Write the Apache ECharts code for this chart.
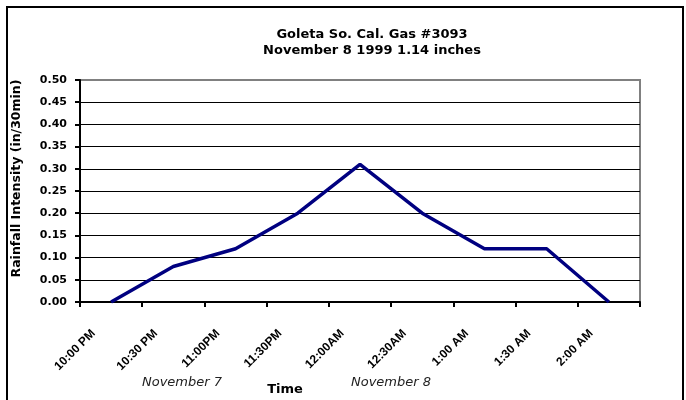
<!DOCTYPE html>
<html>
<head>
<meta charset="utf-8">
<script src="https://cdn.jsdelivr.net/npm/echarts@6/dist/echarts.min.js"></script>
<style>
html,body{margin:0;padding:0;background:#fff;}
#chart{width:686px;height:400px;}
</style>
</head>
<body>
<div id="chart"></div>
<script>
var titleLines = ['Goleta So. Cal. Gas #3093', 'November 8 1999 1.14 inches'];
var categories = ['10:00 PM', '10:30 PM', '11:00PM', '11:30PM', '12:00AM', '12:30AM', '1:00 AM', '1:30 AM', '2:00 AM'];
var intensity = [0, 0.08, 0.12, 0.20, 0.31, 0.20, 0.12, 0.12, 0];
var yName = 'Rainfall Intensity (in/30min)';
var xName = 'Time';
var dateNotes = ['November 7', 'November 8'];

var chart = echarts.init(document.getElementById('chart'));
chart.setOption({
  animation: false,
  backgroundColor: '#fff',
  title: {
    text: titleLines.join('\n'),
    left: 367,
    top: 22,
    textAlign: 'center',
    textStyle: {
      fontFamily: 'DejaVu Sans',
      fontWeight: 'bold',
      fontSize: 13,
      lineHeight: 16,
      color: '#000'
    }
  },
  grid: {
    left: 80,
    right: 46,
    top: 80,
    bottom: 98,
    show: true,
    borderColor: '#808080',
    borderWidth: 2,
    backgroundColor: '#fff'
  },
  xAxis: {
    type: 'category',
    data: categories,
    boundaryGap: true,
    axisLine: { lineStyle: { color: '#000', width: 2 } },
    axisTick: { show: true, length: 5, lineStyle: { color: '#000', width: 2 } },
    axisLabel: {
      interval: 0,
      rotate: 45,
      margin: 12,
      padding: [0, 25, 0, 0],
      fontFamily: 'Liberation Sans',
      fontWeight: 'bold',
      fontSize: 12,
      color: '#000'
    },
    splitLine: { show: false }
  },
  yAxis: {
    type: 'value',
    min: 0,
    max: 0.5,
    interval: 0.05,
    name: yName,
    nameLocation: 'middle',
    nameGap: 57,
    nameRotate: 90,
    nameTextStyle: {
      fontFamily: 'DejaVu Sans',
      fontWeight: 'bold',
      fontSize: 12.5,
      color: '#000',
      padding: [0, 0, 0, 25]
    },
    axisLine: { show: true, lineStyle: { color: '#000', width: 2 } },
    axisTick: { show: true, length: 5, lineStyle: { color: '#000', width: 2 } },
    axisLabel: {
      margin: 13,
      formatter: function (v) { return v.toFixed(2); },
      fontFamily: 'DejaVu Sans',
      fontWeight: 'bold',
      fontSize: 11,
      color: '#000'
    },
    splitLine: {
      show: true,
      showMinLine: false,
      showMaxLine: false,
      lineStyle: { color: '#000', width: 1 }
    }
  },
  graphic: [
    {
      type: 'rect',
      shape: { x: 7, y: 7, width: 676, height: 410 },
      style: { fill: 'none', stroke: '#000', lineWidth: 2 },
      silent: true,
      z: 100
    },
    {
      type: 'text',
      x: 182,
      y: 383,
      style: {
        text: dateNotes[0],
        fontFamily: 'DejaVu Sans',
        fontStyle: 'italic',
        fontSize: 13,
        fill: '#222',
        textAlign: 'center',
        textVerticalAlign: 'middle'
      }
    },
    {
      type: 'text',
      x: 391,
      y: 383,
      style: {
        text: dateNotes[1],
        fontFamily: 'DejaVu Sans',
        fontStyle: 'italic',
        fontSize: 13,
        fill: '#222',
        textAlign: 'center',
        textVerticalAlign: 'middle'
      }
    },
    {
      type: 'text',
      x: 285,
      y: 390,
      style: {
        text: xName,
        fontFamily: 'DejaVu Sans',
        fontWeight: 'bold',
        fontSize: 13,
        fill: '#000',
        textAlign: 'center',
        textVerticalAlign: 'middle'
      }
    }
  ],
  series: [{
    type: 'line',
    data: intensity,
    showSymbol: false,
    symbol: 'none',
    lineStyle: { color: '#000080', width: 3.5 },
    z: 5
  }]
});
</script>
</body>
</html>
